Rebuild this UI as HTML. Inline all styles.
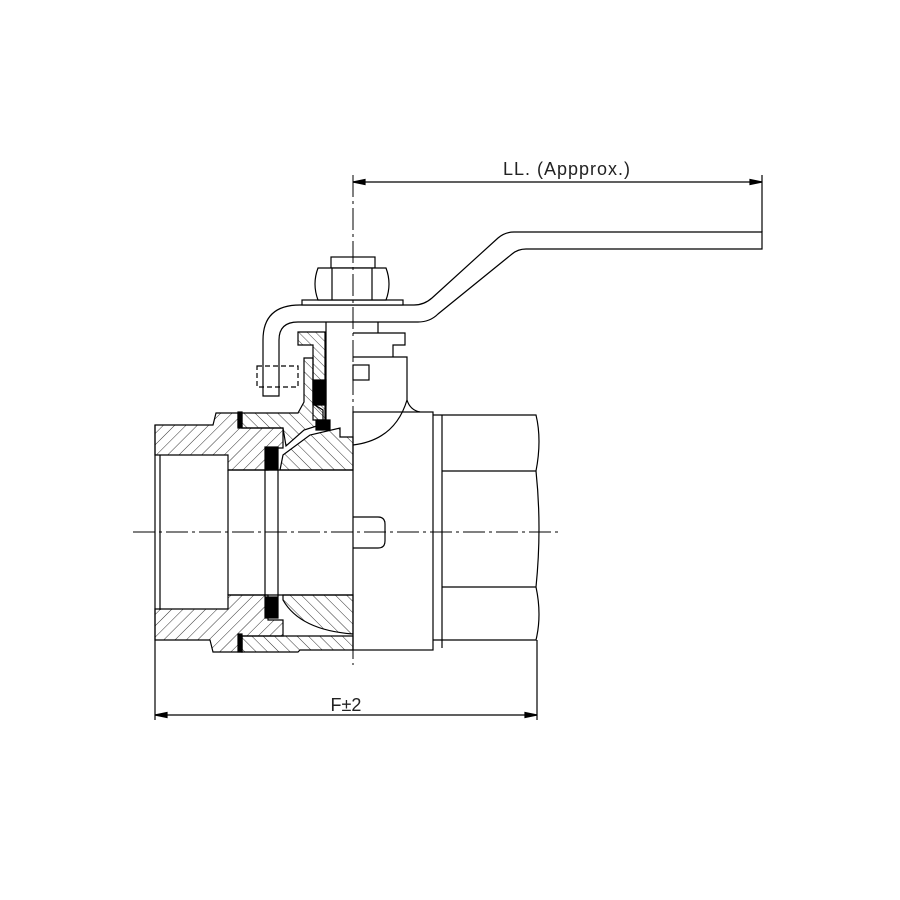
<!DOCTYPE html>
<html><head><meta charset="utf-8"><style>
html,body{margin:0;padding:0;background:#fff;}
svg{display:block}
text{font-family:"Liberation Sans",sans-serif;}
</style></head><body>
<svg width="900" height="900" viewBox="0 0 900 900" xmlns="http://www.w3.org/2000/svg">
<defs>
<pattern id="hA" width="8" height="8" patternUnits="userSpaceOnUse" patternTransform="rotate(45)">
<line x1="0" y1="0" x2="0" y2="8" stroke="#000" stroke-width="0.8"/></pattern>
<pattern id="hB" width="8" height="8" patternUnits="userSpaceOnUse" patternTransform="rotate(-45)">
<line x1="0" y1="0" x2="0" y2="8" stroke="#000" stroke-width="0.8"/></pattern>
<pattern id="hC" width="6" height="6" patternUnits="userSpaceOnUse" patternTransform="rotate(-45)">
<line x1="0" y1="0" x2="0" y2="6" stroke="#000" stroke-width="0.7"/></pattern>
</defs>
<g fill="none" stroke="#000" stroke-width="1.2">
<!-- LL dimension -->
<line x1="353" y1="182" x2="762" y2="182"/>
<line x1="762" y1="175" x2="762" y2="232"/>
<polygon points="762,182 750,179.5 750,184.5" fill="#000"/>
<polygon points="353,182 365,179.5 365,184.5" fill="#000"/>
<!-- handle -->
<path d="M762,232 L514,232 Q505,232 498,238 L432,298 Q424,305 414,305 L300,305 Q263,305 263,340 L263,396 L279,396 L279,340 Q279,322 298,322 L418,322 Q430,322 438,314 L512,254 Q518,249 526,249 L762,249 Z" fill="#fff"/>
<rect x="257" y="366" width="41" height="21" stroke-dasharray="5,3"/>
<!-- nut -->
<rect x="331" y="257" width="44" height="11" fill="#fff"/>
<rect x="302" y="300" width="101" height="5" fill="#fff"/>
<path d="M318,268 L386,268 Q392,284 386,300 L318,300 Q312,284 318,268 Z" fill="#fff"/>
<line x1="332" y1="268" x2="332" y2="300"/><line x1="372" y1="268" x2="372" y2="300"/>
<!-- stem area right -->
<line x1="378" y1="322" x2="378" y2="333"/>
<polyline points="353,333 405,333 405,345 393,345 393,357"/>
<path d="M353,357 L407,357 L407,400 Q410,410 420,412"/>
<path d="M353,445 Q395,440 407,400"/>
<rect x="353" y="365" width="16" height="15"/>
<!-- right body -->
<rect x="353" y="412" width="80" height="238" fill="none"/>
<line x1="442" y1="415" x2="442" y2="648"/>
<path d="M433,415 L536,415 Q542,440 536,471 Q542,528 536,587 Q542,615 536,640 L433,640"/>
<line x1="442" y1="471" x2="536" y2="471"/>
<line x1="442" y1="587" x2="536" y2="587"/>
<path d="M353,517 L378,517 Q385,517 385,524 L385,541 Q385,548 378,548 L353,548"/>
<!-- upper hatched -->
<polygon points="155,425 213,425 216,413 238,413 238,428 283,428 283,448 268,448 268,470 228,470 228,455 160,455 155,455" fill="url(#hA)"/>
<polygon points="242,413 298,413 304,402 304,358 313,358 313,404 323,410 323,424 304,430 286,446 283,428 242,428" fill="url(#hB)"/>
<polygon points="298,332 325,332 325,420 313,420 313,345 298,345" fill="url(#hC)"/>
<polygon points="313,380 326,380 326,405 313,405" fill="#000"/>
<polygon points="316,420 330,420 330,430 316,430" fill="#000"/>
<polygon points="283,455 310,435 340,428 340,437 353,437 353,470 280,470" fill="url(#hB)"/>
<rect x="238" y="412" width="4" height="15" fill="#000"/>
<rect x="265" y="447" width="13" height="23" fill="#000"/>
<line x1="326" y1="322" x2="326" y2="425"/>
<!-- lower hatched -->
<polygon points="155,609 228,609 228,595 268,595 268,620 283,620 283,636 242,636 242,652 213,652 210,640 155,640" fill="url(#hA)"/>
<path d="M283,595 L353,595 L353,634 Q300,630 283,600 Z" fill="url(#hB)"/>
<polygon points="242,636 353,636 353,650 300,650 298,652 242,652" fill="url(#hB)"/>
<rect x="238" y="634" width="4" height="18" fill="#000"/>
<rect x="265" y="597" width="13" height="21" fill="#000"/>
<!-- bores -->
<line x1="155" y1="425" x2="155" y2="640"/>
<line x1="160" y1="455" x2="160" y2="610"/>
<line x1="228" y1="470" x2="228" y2="595"/>
<line x1="265" y1="470" x2="265" y2="597"/>
<line x1="278" y1="470" x2="278" y2="597"/>
<line x1="228" y1="470" x2="353" y2="470"/>
<line x1="228" y1="595" x2="353" y2="595"/>
<!-- centerlines -->
<line x1="353" y1="175" x2="353" y2="665" stroke-width="1" stroke-dasharray="22,4,3,4"/>
<line x1="133" y1="532" x2="560" y2="532" stroke-width="1" stroke-dasharray="22,4,3,4"/>
<!-- F dimension -->
<line x1="155" y1="640" x2="155" y2="720"/>
<line x1="537" y1="640" x2="537" y2="720"/>
<line x1="155" y1="715" x2="537" y2="715"/>
<polygon points="155,715 167,712.5 167,717.5" fill="#000"/>
<polygon points="537,715 525,712.5 525,717.5" fill="#000"/>
</g>
<text x="567" y="175" font-size="18" letter-spacing="1" text-anchor="middle" fill="#222">LL.  (Appprox.)</text>
<text x="346" y="711" font-size="18" text-anchor="middle" fill="#222">F±2</text>
</svg>
</body></html>
